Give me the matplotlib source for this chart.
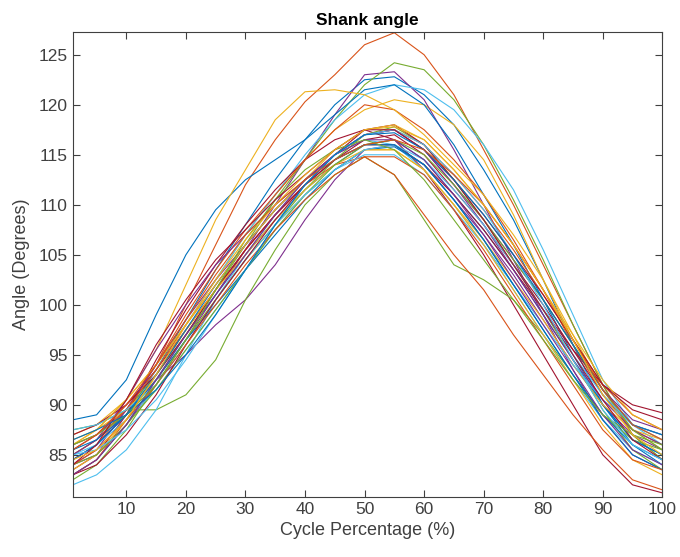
import numpy as np
import matplotlib as mpl
mpl.use('Agg')
import matplotlib.pyplot as plt

mpl.rc('font', family='Liberation Sans')
mpl.rc('font', size=12.5)

# cycle percentage at which the curves were read
pct = [1, 5, 10, 15, 20, 25, 30, 35, 40, 45, 50, 55, 60, 65, 70, 75, 80, 85, 90, 95, 100]

# shank angle per trial (degrees)
t01 = [84.5, 86, 89, 93.5, 98.5, 103.5, 108, 112.5, 116.5, 120, 122.5, 122.8, 121, 118, 113.5, 108.5, 102.5, 96, 90, 86, 84]
t02 = [84.5, 86, 89.5, 94, 100, 106, 112, 116.5, 120.3, 123, 126, 127.2, 125, 121, 115.5, 110, 104, 98, 92, 87, 84.5]
t03 = [87, 88, 90.5, 94, 98, 102.5, 107, 111, 114.5, 117.5, 119.5, 120.5, 120, 118, 114.5, 109, 102.5, 96.5, 91.5, 88, 86.5]
t04 = [84, 85, 88, 92, 96.5, 101, 105.5, 110, 114.5, 119, 123, 123.3, 120.5, 115.5, 110, 104.5, 99, 93.5, 88.5, 85, 83.5]
t05 = [85, 86.5, 89.5, 93, 97, 101.5, 106, 110.5, 114.5, 118.5, 122, 124.2, 123.5, 120.5, 116, 110.5, 104.5, 98, 92, 87, 84.5]
t06 = [86, 87, 89.5, 93.5, 98, 102.5, 107, 111, 115, 118.5, 121, 122, 121.5, 119.5, 116, 111.5, 105.5, 99, 92.5, 88, 86]
t07 = [83.5, 85, 89, 94.5, 99.5, 104, 108, 111.5, 114.5, 116.5, 117.5, 116.5, 113.5, 109.5, 105, 100, 95, 90, 85, 82, 81.2]
t08 = [88.5, 89, 92.5, 99, 105, 109.5, 112.5, 114.5, 116.5, 119, 121.5, 122, 120, 116, 111, 106, 100.5, 95, 90, 86.5, 85]
t09 = [85, 86.5, 89.5, 94, 99, 103.5, 107.5, 111, 114.5, 117.5, 120, 119.5, 117.5, 114.5, 111, 106.5, 101.5, 96, 91, 87.5, 86]
t10 = [86, 87.5, 90.5, 95.5, 102, 108.5, 113.5, 118.5, 121.3, 121.5, 121, 119.5, 117, 114, 111, 107, 102.5, 97, 91.5, 87.5, 85.5]
t11 = [84.5, 86, 89, 92.5, 95, 98, 100.5, 104, 108.5, 112.5, 115.5, 116, 114, 110.5, 107, 103, 98.5, 94, 90, 87, 85.5]
t12 = [87.5, 88, 89.5, 89.5, 91, 94.5, 100.5, 105.5, 110, 113, 114.8, 113, 108.5, 104, 102.5, 100.5, 97, 93, 89, 86.5, 85.5]
t13 = [82, 83, 85.5, 89.5, 95, 100.5, 105, 109, 112.5, 115, 116.5, 116, 113.5, 110, 106, 101.5, 97, 92.5, 88.5, 85.5, 84]
t14 = [85.5, 87, 90, 93.5, 97.5, 101.5, 105.5, 109, 112, 114.5, 116.5, 117, 115, 111.5, 108, 104, 100, 95.5, 91, 88, 87]
t15 = [83, 84.5, 88, 92.5, 97, 101, 105, 108.5, 111.5, 114, 116, 116.5, 114.5, 111, 107.5, 103.5, 99, 94.5, 90, 86.5, 85]
t16 = [83, 84.5, 88.5, 93, 97.5, 101.5, 105.5, 109, 112, 114, 114.8, 113, 109, 105, 101.5, 97, 93, 89, 85.5, 82.5, 81.5]
t17 = [86.5, 87.5, 89.5, 92.5, 96.5, 100.5, 104.5, 108, 111, 113.5, 115.5, 115.5, 113.5, 110, 106.5, 102.5, 98.5, 94, 90, 87.5, 86.5]
t18 = [84, 85.5, 89.5, 94, 98.5, 102.5, 106, 109.5, 112.5, 115, 117, 117.5, 115.5, 112, 108.5, 104.5, 100.5, 96, 91.5, 88.5, 87.5]
t19 = [82.5, 84, 87.5, 92, 96.5, 100.5, 104.5, 108, 111.5, 114.5, 117, 117.8, 116, 112.5, 108.5, 104, 99.5, 94.5, 89.5, 85.5, 83.5]
t20 = [85, 86, 88.5, 91.5, 95.5, 99.5, 103.5, 107.5, 111, 113.5, 115, 115, 113, 109.5, 106, 102, 98, 94, 90.5, 88, 87]
t21 = [87, 88, 90, 93, 97, 101.5, 105.5, 109, 112, 114.5, 116, 116, 114, 111, 107.5, 103.5, 99.5, 95.5, 92, 90, 89.2]
t22 = [84.5, 86, 89, 92.5, 96.5, 100, 103.5, 107, 110.5, 113.5, 115.5, 115.8, 114, 110.5, 106.5, 102, 97.5, 93, 88.5, 85, 83.5]
t23 = [86, 87, 89.5, 93.5, 98, 102, 106, 109.5, 112.5, 115, 117, 117.5, 116, 113, 109.5, 105.5, 101, 96.5, 92, 89, 87.5]
t24 = [83.5, 85, 88.5, 93, 97.5, 101.5, 105, 108.5, 111.5, 114, 115.5, 115.5, 113.5, 110, 106, 101.5, 97, 92.5, 88, 84.5, 83]
t25 = [85, 86.5, 90.5, 95.5, 100, 104, 107, 110, 112.5, 115, 117, 117.5, 115.5, 112, 108, 103.5, 99, 94.5, 90.5, 87.5, 86]
t26 = [84, 85, 88, 91.5, 95.5, 99.5, 103.5, 107.5, 111, 114, 116, 116.5, 115, 112, 108.5, 104.5, 100.5, 96, 91.5, 87.5, 85.5]
t27 = [87.5, 88, 89.5, 92, 96, 100.5, 104.5, 108, 111, 113.5, 115.5, 116, 114.5, 111.5, 108, 104, 99.5, 95, 91, 88, 86.5]
t28 = [83, 84, 87, 91, 96, 100.5, 104.5, 108.5, 112, 115, 117.5, 118, 116, 112.5, 108.5, 104, 99.5, 95, 90.5, 86.5, 84.5]
t29 = [85.5, 86.5, 89, 93, 97.5, 102, 106, 109.5, 112.5, 114.5, 116, 116, 114, 110.5, 106.5, 102, 97.5, 93, 89, 86, 84.5]
t30 = [84, 85.5, 88.5, 92, 96, 100, 104, 107.5, 110.5, 113, 114.8, 114.8, 113, 109.5, 105.5, 101, 96.5, 92, 87.5, 84.5, 83.5]
t31 = [86, 87.5, 90.5, 94, 98, 102, 106, 109.5, 112.5, 115.5, 117.5, 117.8, 116.5, 113.5, 110, 106, 101.5, 97, 92.5, 89, 87.5]
t32 = [83, 84.5, 88, 92.5, 97, 101, 105, 109, 112.5, 115, 116.5, 116.5, 114.5, 111, 107, 102.5, 98, 93.5, 89, 85.5, 84]
t33 = [86, 87, 89, 92, 96.5, 101.5, 106.5, 110.5, 113.5, 115.5, 116.5, 115.5, 112.5, 108.5, 104.5, 100.5, 96.5, 92.5, 89, 87, 86]
t34 = [85, 85.5, 87.5, 90.5, 94.5, 99, 103.5, 108, 112, 115, 117, 117.5, 116, 113, 109.5, 105, 100, 94.5, 89.5, 86, 84.5]
t35 = [84, 86, 90.5, 96, 100.5, 104.5, 107.5, 110.5, 113, 115.5, 117.5, 117.5, 115.5, 112.5, 109, 105, 101, 96.5, 92, 89.5, 88.5]
t36 = [86.5, 87.5, 89, 91.5, 95, 99, 103.5, 108, 112, 115, 117, 117.2, 115.5, 112.5, 109, 105, 100.5, 96, 91.5, 88, 87]
t37 = [85.5, 87, 90, 94, 98.5, 103, 107, 110, 112.5, 114.5, 116, 116.5, 115.5, 113, 110, 106, 101.5, 96.5, 91.5, 88, 86.5]
t38 = [84.5, 85.5, 88.5, 93, 98, 102.5, 106.5, 110, 113, 115.5, 117.5, 118, 116.5, 113.5, 110, 106, 101.5, 96.5, 91, 87, 85]

trials = [t01, t02, t03, t04, t05, t06, t07, t08, t09, t10, t11, t12, t13, t14, t15, t16, t17, t18, t19,
          t20, t21, t22, t23, t24, t25, t26, t27, t28, t29, t30, t31, t32, t33, t34, t35, t36, t37, t38]

# matlab default line colours
matlab_colors = ['#0072BD', '#D95319', '#EDB120', '#7E2F8E', '#77AC30', '#4DBEEE', '#A2142F']

#%% plot
fig = plt.figure(figsize=(6.8, 5.57), dpi=100)
ax = fig.add_axes([0.107, 0.108, 0.867, 0.835])
ax.set_prop_cycle(color=matlab_colors)

for t in trials:
    ax.plot(pct, t, linewidth=0.8)

ax.set_xlim(1, 100)
ax.set_ylim(80.8, 127.3)
ax.set_xticks(np.arange(10, 101, 10))
ax.set_yticks(np.arange(85, 126, 5))

ax.tick_params(direction='in', top=True, right=True, colors='#404040', length=5, width=0.8)
for s in ax.spines.values():
    s.set_color('#404040')
    s.set_linewidth(0.8)

ax.set_xlabel('Cycle Percentage (%)', fontsize=13, color='#404040', labelpad=4)
ax.set_ylabel('Angle (Degrees)', fontsize=13, color='#404040', labelpad=6)
ax.set_title('Shank angle', fontsize=12.5, fontweight='bold', color='black', pad=5)

fig.savefig('out.png', dpi=100)
